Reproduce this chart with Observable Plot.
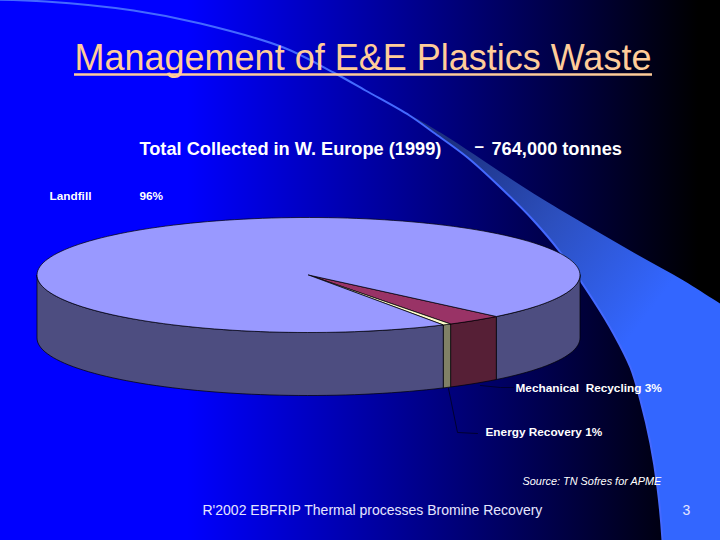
<!DOCTYPE html>
<html><head><meta charset="utf-8">
<style>html,body{margin:0;padding:0;background:#000}svg{display:block}</style>
<script src="https://cdn.jsdelivr.net/npm/d3@7"></script>
<script src="https://cdn.jsdelivr.net/npm/@observablehq/plot@0.6"></script>
</head><body><div id="chart"></div>
<script>
const categories = ["Mechanical Recycling", "Energy Recovery", "Landfill"];
const shares = [3.4, 0.5, 96.1];               // drawn sweep
const topColors = ["#993366", "#ffffcc", "#9999ff"];
const wallColors = ["#561f36", "#808066", "#4d4d80"];

const titleText = "Management of E&E Plastics Waste";
const headLabels = [
  {t: "Total Collected in W. Europe (1999)", x: 139, y: 149},
  {t: "764,000 tonnes", x: 491, y: 149}
];
const dashLabel = [{t: "–", x: 474, y: 146}];
const sliceLabels = [
  {t: "Landfill", x: 49, y: 196},
  {t: "96%", x: 139, y: 196},
  {t: "Mechanical  Recycling 3%", x: 515, y: 387.5},
  {t: "Energy Recovery 1%", x: 485, y: 431.5}
];
const sourceLabel = [{t: "Source: TN Sofres for APME", x: 522, y: 481}];
const footerLabels = [
  {t: "R'2002 EBFRIP Thermal processes Bromine Recovery", x: 202, y: 510},
  {t: "3", x: 682, y: 510}
];
const leaderMech = [[480, 385], [500, 387], [513, 387]];
const leaderEnergy = [[448, 388], [457, 432], [477, 433]];

const swooshInner = [[-20,-1],[45,1],[133,10],[200,23],[283,47],[333,72],[365,90],[409,115],[433,132],[467,157],[500,187],[533,220],[560,252],[593,300],[613,333],[630,367],[640,400],[650,443],[657,487],[662,540],[664,600]];
const swooshOuter = [[409,114],[443,134],[533,193],[583,223],[633,252],[683,280],[718,302],[800,352]];

// pie geometry
const cx = 308, cy = 274.5, rx = 271.5, ry = 57.5, depth = 63, startDeg = 46.2;
const at = (deg, dy = 0) => {
  const a = deg * Math.PI / 180;
  return {x: cx + rx * Math.cos(a), y: cy + ry * Math.sin(a) + dy};
};
const range = (a, b) => {
  const out = [], n = Math.max(2, Math.ceil(Math.abs(b - a) / 2));
  for (let i = 0; i <= n; ++i) out.push(a + (b - a) * i / n);
  return out;
};
let acc = startDeg;
const slices = categories.map((c, i) => {
  const a0 = acc; acc += shares[i] * 3.6;
  return {c, i, a0, a1: acc};
});
const topRows = [], wallRows = [];
for (const s of slices) {
  topRows.push({x: cx, y: cy, k: s.c, fill: topColors[s.i]});
  for (const d of range(s.a0, s.a1)) topRows.push({...at(d), k: s.c, fill: topColors[s.i]});
  // visible walls: the front half of the rim (0..180 deg, also +360)
  const parts = [[Math.max(s.a0, 0), Math.min(s.a1, 180)], [Math.max(s.a0, 360), Math.min(s.a1, 540)]];
  parts.forEach(([p, q], j) => {
    if (q <= p) return;
    const k = s.c + j;
    for (const d of range(p, q)) wallRows.push({...at(d), k, fill: wallColors[s.i]});
    for (const d of range(q, p)) wallRows.push({...at(d, depth), k, fill: wallColors[s.i]});
    wallRows.push({...at(p), k, fill: wallColors[s.i]});
  });
}
const closeTop = d3.groups(topRows, d => d.k).flatMap(([, r]) => [...r, r[0]]);

const pt = ([x, y]) => ({x, y});
const swooshShape = [
  ...swooshOuter, swooshOuter.at(-1),
  [800, 600], [800, 600], [664, 600], [664, 600],
  ...swooshInner.slice().reverse().slice(1, 13)
].map(pt);

const txt = (data, o) => Plot.text(data, {x: "x", y: "y", text: "t", textAnchor: "start", fontFamily: "Liberation Sans", fill: "white", ...o});

const plot = Plot.plot({
  width: 720, height: 540, margin: 0,
  x: {domain: [0, 720], range: [0, 720], axis: null},
  y: {domain: [0, 540], range: [0, 540], axis: null},
  style: {background: "linear-gradient(90deg,#0000ff 26%,#000000 97%)"},
  marks: [
    Plot.line(swooshShape, {x: "x", y: "y", fill: "url(#swoosh)", stroke: "none", curve: "catmull-rom"}),
    Plot.line(swooshInner.map(pt), {x: "x", y: "y", stroke: "#4469ff", strokeWidth: 2, curve: "catmull-rom"}),
    Plot.line(wallRows, {x: "x", y: "y", z: "k", fill: "fill", stroke: "black", strokeWidth: 0.7, strokeLinejoin: "round"}),
    Plot.line(closeTop, {x: "x", y: "y", z: "k", fill: "fill", stroke: "black", strokeWidth: 0.7, strokeLinejoin: "round"}),
    Plot.line(leaderMech.map(pt), {x: "x", y: "y", stroke: "#000030", strokeWidth: 1}),
    Plot.line(leaderEnergy.map(pt), {x: "x", y: "y", stroke: "#000030", strokeWidth: 1}),
    Plot.text([titleText], {x: 74, y: 58, text: d => d, textAnchor: "start", fontFamily: "Liberation Sans", fontSize: 36, fill: "#ffcc99"}),
    Plot.ruleY([74], {x1: 74, x2: 652, stroke: "#ffcc99", strokeWidth: 2.5}),
    txt(headLabels, {fontSize: 18.2, fontWeight: "bold"}),
    txt(dashLabel, {fontSize: 17, fontWeight: "bold"}),
    txt(sliceLabels, {fontSize: 11.8, fontWeight: "bold"}),
    txt(sourceLabel, {fontSize: 10.9, fontStyle: "italic"}),
    txt(footerLabels, {fontSize: 14, fill: "#e6e6ff"})
  ]
});
d3.select(plot).insert("defs", ":first-child").html(
  '<linearGradient id="swoosh" gradientUnits="userSpaceOnUse" x1="440" y1="150" x2="650" y2="310">' +
  '<stop offset="0" stop-color="#1c3080"/><stop offset="0.5" stop-color="#2c4fbe"/><stop offset="1" stop-color="#3366ff"/></linearGradient>');
document.getElementById("chart").append(plot);
</script></body></html>
